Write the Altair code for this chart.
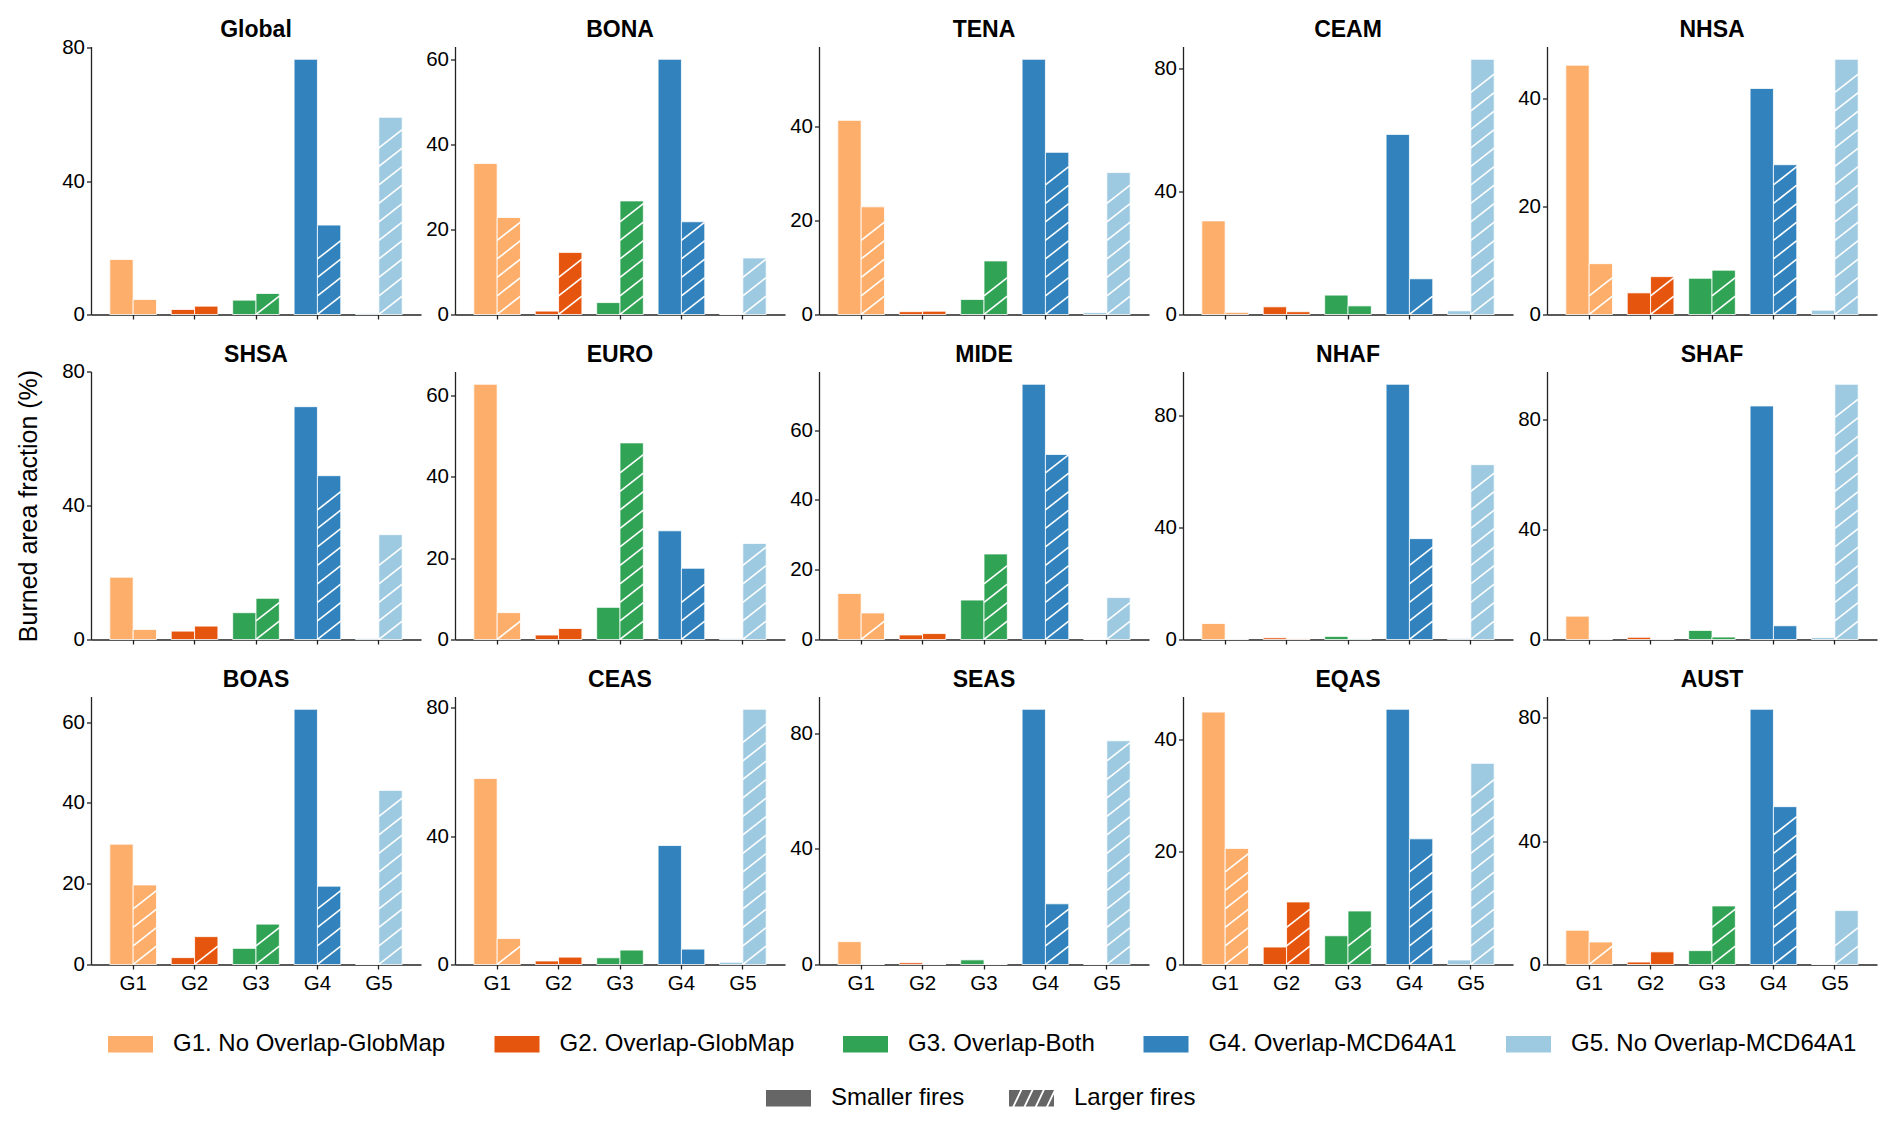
import altair as alt
import pandas as pd

regions = ["Global", "BONA", "TENA", "CEAM", "NHSA",
           "SHSA", "EURO", "MIDE", "NHAF", "SHAF",
           "BOAS", "CEAS", "SEAS", "EQAS", "AUST"]
group_codes = ["G1", "G2", "G3", "G4", "G5"]
group_labels = ["G1. No Overlap-GlobMap", "G2. Overlap-GlobMap", "G3. Overlap-Both",
                "G4. Overlap-MCD64A1", "G5. No Overlap-MCD64A1"]
group_colors = ["#fdae6b", "#e6550d", "#31a354", "#3182bd", "#9ecae1"]
fire_sizes = ["Smaller fires", "Larger fires"]

# burned area fraction (%) per region, G1..G5
smaller_fires = [
    [16.5, 1.5, 4.3, 76.5, 0.3],   # Global
    [35.5, 0.8, 2.8, 60.0, 0.0],   # BONA
    [41.3, 0.6, 3.2, 54.3, 0.4],   # TENA
    [30.4, 2.5, 6.3, 58.5, 1.2],   # CEAM
    [46.1, 4.0, 6.7, 41.8, 0.8],   # NHSA
    [18.6, 2.5, 8.0, 69.5, 0.3],   # SHSA
    [62.7, 1.1, 7.9, 26.7, 0.2],   # EURO
    [13.2, 1.3, 11.3, 73.1, 0.0],  # MIDE
    [5.7, 0.6, 1.1, 91.1, 0.4],    # NHAF
    [8.5, 0.8, 3.3, 85.1, 0.7],    # SHAF
    [29.8, 1.7, 4.0, 63.2, 0.0],   # BOAS
    [58.0, 1.1, 2.1, 37.1, 0.7],   # CEAS
    [7.9, 0.6, 1.6, 88.3, 0.0],    # SEAS
    [44.8, 3.1, 5.1, 45.3, 0.8],   # EQAS
    [11.1, 0.8, 4.5, 82.8, 0.0],   # AUST
]
larger_fires = [
    [4.5, 2.5, 6.3, 26.8, 59.1],   # Global
    [22.8, 14.6, 26.7, 21.8, 13.3],  # BONA
    [22.9, 0.7, 11.4, 34.5, 30.2],  # TENA
    [0.7, 0.9, 2.8, 11.6, 82.9],   # CEAM
    [9.4, 7.0, 8.2, 27.7, 47.2],   # NHSA
    [3.0, 4.0, 12.3, 48.9, 31.3],  # SHSA
    [6.6, 2.7, 48.3, 17.5, 23.6],  # EURO
    [7.6, 1.7, 24.5, 53.0, 12.0],  # MIDE
    [0.1, 0.2, 0.2, 36.0, 62.4],   # NHAF
    [0.1, 0.1, 0.9, 5.0, 93.0],    # SHAF
    [19.7, 6.9, 10.0, 19.4, 43.1],  # BOAS
    [8.1, 2.3, 4.5, 4.8, 79.6],    # CEAS
    [0.0, 0.0, 0.0, 21.0, 77.4],   # SEAS
    [20.6, 11.1, 9.5, 22.3, 35.7],  # EQAS
    [7.3, 4.1, 19.0, 51.2, 17.5],  # AUST
]
y_ticks = [
    [0, 40, 80], [0, 20, 40, 60], [0, 20, 40], [0, 40, 80], [0, 20, 40],
    [0, 40, 80], [0, 20, 40, 60], [0, 20, 40, 60], [0, 40, 80], [0, 40, 80],
    [0, 20, 40, 60], [0, 40, 80], [0, 40, 80], [0, 20, 40], [0, 40, 80],
]
y_title = "Burned area fraction (%)"

rows = []
for r, reg in enumerate(regions):
    for g in range(5):
        rows.append({"region": reg, "gcode": group_codes[g], "glabel": group_labels[g],
                     "fsize": fire_sizes[0], "value": smaller_fires[r][g]})
        rows.append({"region": reg, "gcode": group_codes[g], "glabel": group_labels[g],
                     "fsize": fire_sizes[1], "value": larger_fires[r][g]})
df = pd.DataFrame(rows)

PLOT_W = 330
PLOT_H = 268
HATCH_PITCH = 18.5   # px between hatch lines
HATCH_HALF = 9.25    # half vertical extent of one hatch line (px)
HATCH_LINE = "M-1,0.79L1,-0.79"
RECT = "M-1,-0.37H1V0.37H-1Z"
HATCHED = ("M-1,0.37L-0.85,0.37L-0.5,-0.37L-1,-0.37Z"
           "M-0.76,0.37L-0.35,0.37L0,-0.37L-0.41,-0.37Z"
           "M-0.26,0.37L0.15,0.37L0.5,-0.37L0.09,-0.37Z"
           "M0.24,0.37L0.65,0.37L1,-0.37L0.59,-0.37Z"
           "M0.74,0.37L1,0.37L1,-0.18Z")

color_legend = alt.Legend(title=None, orient="none", legendX=17, legendY=975,
                          direction="horizontal", columns=5, symbolType=RECT,
                          symbolSize=2025, symbolStrokeWidth=0, labelFontSize=24,
                          labelOffset=20, columnPadding=48.5, labelLimit=400)
size_legend = alt.Legend(title=None, orient="none", legendX=675, legendY=1029,
                         direction="horizontal", columns=2, symbolSize=2025,
                         symbolFillColor="#666666", symbolStrokeWidth=0,
                         symbolOpacity=1, labelFontSize=24, labelOffset=20,
                         columnPadding=44, labelLimit=400)


def panel(i):
    reg = regions[i]
    vals = smaller_fires[i] + larger_fires[i]
    dmax = max(1.05 * max(vals), max(y_ticks[i]))
    pitch_d = HATCH_PITCH * dmax / PLOT_H
    half_d = HATCH_HALF * dmax / PLOT_H
    bottom_row = i >= 10
    xaxis = alt.Axis(title=None, labels=bottom_row, labelAngle=0)
    yaxis = alt.Axis(values=y_ticks[i], format="d",
                     title=y_title if i == 5 else None)
    xscale = alt.Scale(domain=group_codes, paddingInner=0.24, paddingOuter=0.306)
    yscale = alt.Scale(domain=[0, dmax], nice=False, zero=True)
    xo = alt.XOffset("fsize:N", sort=fire_sizes,
                     scale=alt.Scale(domain=fire_sizes, paddingInner=0, paddingOuter=0))
    base = alt.Chart(df).transform_filter(alt.datum.region == reg)
    bars = base.mark_bar(stroke="white", strokeWidth=0.8).encode(
        x=alt.X("gcode:N", scale=xscale, axis=xaxis),
        xOffset=xo,
        y=alt.Y("value:Q", scale=yscale, axis=yaxis),
        color=alt.Color("glabel:N", scale=alt.Scale(domain=group_labels, range=group_colors),
                        legend=color_legend),
    )
    hatch = (
        base.transform_filter(alt.datum.fsize == fire_sizes[1])
        .transform_calculate(k=f"sequence(0, ceil(datum.value / {pitch_d}) + 1)")
        .transform_flatten(["k"])
        .transform_calculate(yc=f"{half_d} + datum.k * {pitch_d}")
        .transform_filter(f"datum.yc + {half_d} <= datum.value")
        .mark_point(shape=HATCH_LINE, size=545, filled=False, stroke="white",
                    strokeWidth=1.6, opacity=1)
        .encode(
            x=alt.X("gcode:N", scale=xscale, axis=xaxis),
            xOffset=xo,
            y=alt.Y("yc:Q", scale=yscale, axis=yaxis),
        )
    )
    title = (
        base.transform_aggregate(n="count()", groupby=["region"])
        .mark_text(fontSize=23, fontWeight="bold", baseline="alphabetic",
                   align="center", color="black")
        .encode(x=alt.value(PLOT_W / 2), y=alt.value(-10), text="region:N")
    )
    layers = [bars, hatch, title]
    if i == 0:
        key = (
            alt.Chart(df).transform_filter("false")
            .mark_point(filled=True, color="#666666", opacity=1)
            .encode(shape=alt.Shape("fsize:N",
                                    scale=alt.Scale(domain=fire_sizes, range=[RECT, HATCHED]),
                                    legend=size_legend))
        )
        layers.append(key)
    return alt.layer(*layers).properties(width=PLOT_W, height=PLOT_H)


chart = (
    alt.concat(*[panel(i) for i in range(len(regions))], columns=5,
               spacing={"row": 57, "column": 34}, bounds="flush")
    .properties(padding={"left": 8, "top": 10.5, "right": 5, "bottom": 5})
    .configure(font="Liberation Sans")
    .configure_view(stroke=None)
    .configure_axis(domainColor="#222222", domainWidth=1.3, tickColor="#222222",
                    tickWidth=1.3, tickSize=4.5, labelFontSize=20.5, labelColor="black",
                    grid=False, titleFontSize=25, titleFontWeight="normal",
                    titleColor="black")
    .configure_axisX(labelPadding=4)
    .configure_axisY(labelPadding=2, titlePadding=20)
    .configure_legend(labelColor="black")
)

chart.save("out.html", embed_options={"renderer": "svg", "actions": False})
